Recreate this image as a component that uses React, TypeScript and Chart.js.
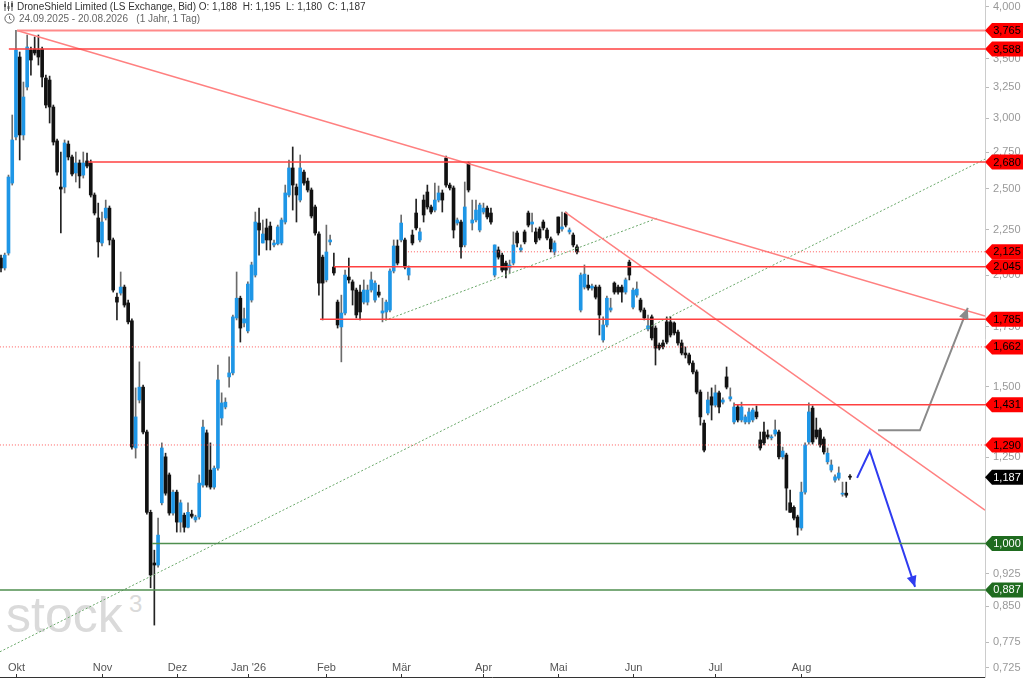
import { useEffect, useRef } from "react"
import { Chart, registerables } from "chart.js"

Chart.register(...registerables)

// daily candles, trading-day index 0..227
const opens = [
  2.091, 2.038, 2.118, 2.538, 2.859, 3.515, 2.874, 3.253, 3.579, 3.588,
  3.579, 3.588, 3.329, 3.312, 3.089, 2.83, 2.512, 2.512, 2.807, 2.715,
  2.605, 2.673, 2.591, 2.687, 2.673, 2.461, 2.319, 2.174, 2.319, 2.379,
  2.191, 1.89, 1.91, 1.94, 1.862, 1.778, 1.28, 1.449, 1.498, 1.334,
  1.084, 0.951, 0.946, 1.111, 1.251, 1.194, 1.082, 1.142, 1.057, 1.076,
  1.043, 1.079, 1.063, 1.071, 1.163, 1.331, 1.209, 1.157, 1.215, 1.383,
  1.423, 1.538, 1.554, 1.791, 1.885, 1.768, 1.732, 1.876, 2.001, 2.289,
  2.174, 2.26, 2.271, 2.163, 2.169, 2.174, 2.295, 2.461, 2.639, 2.512,
  2.429, 2.611, 2.551, 2.493, 2.386, 2.225, 2.096, 1.976, 2.18, 2.043,
  1.866, 1.75, 1.814, 1.991, 1.966, 1.925, 1.915, 1.866, 1.866, 1.925,
  1.876, 1.915, 1.814, 1.819, 1.828, 2.022, 2.157, 2.191, 2.191, 2.001,
  2.219, 2.349, 2.191, 2.429, 2.48, 2.386, 2.367, 2.429, 2.474, 2.708,
  2.525, 2.506, 2.289, 2.295, 2.163, 2.673, 2.289, 2.307, 2.248, 2.355,
  2.379, 2.349, 2.001, 2.135, 2.107, 2.064, 2.038, 2.064, 2.231, 2.135,
  2.237, 2.349, 2.283, 2.237, 2.254, 2.295, 2.248, 2.197, 2.124, 2.325,
  2.254, 2.349, 2.237, 2.219, 2.152, 1.828, 1.94, 1.95, 1.935, 1.94,
  1.94, 1.692, 1.759, 1.828, 1.96, 1.94, 1.94, 1.915, 2.069, 1.842,
  1.9, 1.876, 1.828, 1.741, 1.796, 1.745, 1.67, 1.679, 1.773, 1.773,
  1.768, 1.727, 1.679, 1.636, 1.628, 1.594, 1.558, 1.479, 1.365, 1.401,
  1.461, 1.43, 1.476, 1.441, 1.538, 1.453, 1.369, 1.423, 1.376, 1.369,
  1.369, 1.376, 1.405, 1.307, 1.334, 1.324, 1.314, 1.327, 1.334, 1.251,
  1.257, 1.111, 1.098, 1.071, 1.041, 1.142, 1.3, 1.419, 1.341, 1.341,
  1.31, 1.235, 1.209, 1.178, 1.184, 1.136, 1.139, 1.188,
]
const highs = [
  2.107, 2.118, 2.591, 3.026, 3.765, 3.561, 3.295, 3.721, 3.607, 3.702,
  3.721, 3.607, 3.355, 3.346, 3.105, 2.844, 2.75, 2.837, 2.83, 2.729,
  2.75, 2.694, 2.75, 2.743, 2.694, 2.474, 2.41, 2.355, 2.429, 2.392,
  2.202, 1.91, 2.017, 1.95, 1.876, 1.787, 1.495, 1.599, 1.506, 1.341,
  1.09, 0.983, 1.068, 1.297, 1.263, 1.2, 1.148, 1.148, 1.119, 1.082,
  1.111, 1.09, 1.076, 1.194, 1.376, 1.341, 1.297, 1.222, 1.586, 1.476,
  1.457, 1.62, 1.805, 2.017, 1.895, 1.838, 1.966, 2.069, 2.355, 2.379,
  2.307, 2.313, 2.295, 2.191, 2.277, 2.319, 2.525, 2.694, 2.786, 2.532,
  2.729, 2.625, 2.571, 2.506, 2.398, 2.237, 2.107, 2.277, 2.219, 2.118,
  1.876, 1.9, 2.027, 2.091, 1.976, 1.935, 1.95, 1.976, 1.95, 2.017,
  1.971, 1.95, 1.885, 1.876, 2.033, 2.191, 2.191, 2.337, 2.202, 2.049,
  2.248, 2.435, 2.26, 2.461, 2.525, 2.398, 2.538, 2.519, 2.493, 2.722,
  2.538, 2.519, 2.319, 2.307, 2.545, 2.68, 2.429, 2.429, 2.41, 2.41,
  2.392, 2.379, 2.163, 2.152, 2.118, 2.075, 2.08, 2.237, 2.242, 2.163,
  2.248, 2.361, 2.349, 2.26, 2.266, 2.307, 2.26, 2.208, 2.186, 2.325,
  2.355, 2.355, 2.26, 2.231, 2.163, 2.012, 2.054, 2.001, 1.955, 1.95,
  1.95, 1.796, 1.895, 1.885, 1.966, 1.95, 1.95, 1.986, 2.08, 1.935,
  1.966, 1.885, 1.838, 1.805, 1.805, 1.755, 1.679, 1.692, 1.796, 1.796,
  1.773, 1.736, 1.692, 1.662, 1.636, 1.603, 1.566, 1.487, 1.376, 1.479,
  1.495, 1.506, 1.483, 1.457, 1.578, 1.495, 1.438, 1.43, 1.441, 1.394,
  1.419, 1.419, 1.427, 1.334, 1.369, 1.341, 1.324, 1.376, 1.341, 1.283,
  1.263, 1.148, 1.102, 1.076, 1.172, 1.297, 1.438, 1.427, 1.383, 1.348,
  1.317, 1.28, 1.241, 1.194, 1.219, 1.172, 1.172, 1.195,
]
const lows = [
  2.017, 2.027, 2.107, 2.525, 2.837, 2.694, 2.837, 3.228, 3.355, 3.533,
  3.443, 3.253, 3.081, 2.964, 2.8, 2.591, 2.231, 2.474, 2.694, 2.585,
  2.545, 2.506, 2.571, 2.639, 2.448, 2.337, 2.096, 2.157, 2.307, 2.163,
  1.915, 1.782, 1.9, 1.842, 1.764, 1.276, 1.247, 1.438, 1.327, 1.079,
  0.892, 0.81, 0.941, 1.105, 1.133, 1.076, 1.076, 1.03, 1.03, 1.03,
  1.041, 1.068, 1.057, 1.065, 1.157, 1.157, 1.151, 1.151, 1.209, 1.358,
  1.416, 1.498, 1.546, 1.782, 1.683, 1.75, 1.723, 1.866, 1.991, 2.107,
  2.174, 2.135, 2.135, 2.152, 2.163, 2.163, 2.283, 2.448, 2.367, 2.295,
  2.417, 2.525, 2.48, 2.319, 2.219, 1.9, 1.782, 1.966, 2.163, 2.001,
  1.745, 1.599, 1.805, 1.96, 1.852, 1.791, 1.782, 1.857, 1.852, 1.915,
  1.866, 1.89, 1.773, 1.782, 1.819, 2.012, 2.054, 2.18, 2.033, 1.976,
  2.163, 2.248, 2.18, 2.295, 2.373, 2.343, 2.355, 2.417, 2.355, 2.512,
  2.493, 2.202, 2.277, 2.091, 2.152, 2.48, 2.248, 2.295, 2.237, 2.343,
  2.313, 2.283, 1.991, 2.085, 2.017, 1.986, 2.012, 2.054, 2.152, 2.124,
  2.169, 2.266, 2.237, 2.169, 2.191, 2.248, 2.191, 2.124, 2.107, 2.219,
  2.242, 2.266, 2.225, 2.152, 2.113, 1.819, 1.93, 1.925, 1.925, 1.881,
  1.714, 1.683, 1.75, 1.819, 1.905, 1.905, 1.866, 1.905, 1.976, 1.833,
  1.89, 1.819, 1.782, 1.732, 1.692, 1.586, 1.649, 1.653, 1.675, 1.705,
  1.714, 1.67, 1.628, 1.615, 1.586, 1.55, 1.472, 1.358, 1.267, 1.394,
  1.376, 1.423, 1.401, 1.434, 1.491, 1.445, 1.362, 1.369, 1.369, 1.362,
  1.362, 1.369, 1.38, 1.273, 1.29, 1.31, 1.307, 1.32, 1.244, 1.244,
  1.09, 1.084, 1.063, 1.022, 1.035, 1.136, 1.293, 1.293, 1.31, 1.283,
  1.26, 1.228, 1.203, 1.172, 1.178, 1.13, 1.127, 1.18,
]
const closes = [
  2.038, 2.107, 2.578, 2.837, 3.579, 2.874, 3.17, 3.607, 3.488, 3.552,
  3.515, 3.338, 3.105, 3.089, 2.822, 2.611, 2.499, 2.815, 2.715, 2.598,
  2.673, 2.585, 2.673, 2.652, 2.461, 2.349, 2.18, 2.295, 2.379, 2.191,
  1.925, 1.866, 1.94, 1.852, 1.773, 1.283, 1.387, 1.498, 1.334, 1.084,
  0.922, 0.946, 1.022, 1.28, 1.139, 1.082, 1.142, 1.057, 1.111, 1.043,
  1.084, 1.073, 1.071, 1.169, 1.351, 1.163, 1.157, 1.215, 1.526, 1.438,
  1.441, 1.554, 1.796, 1.885, 1.745, 1.787, 1.955, 2.054, 2.295, 2.248,
  2.225, 2.191, 2.191, 2.174, 2.266, 2.307, 2.474, 2.639, 2.525, 2.461,
  2.639, 2.538, 2.493, 2.331, 2.231, 1.96, 1.96, 2.124, 2.191, 2.012,
  1.759, 1.814, 2.001, 1.976, 1.925, 1.805, 1.819, 1.925, 1.925, 1.976,
  1.96, 1.9, 1.824, 1.866, 2.022, 2.157, 2.064, 2.289, 2.043, 2.038,
  2.174, 2.26, 2.237, 2.337, 2.386, 2.355, 2.429, 2.474, 2.429, 2.525,
  2.506, 2.248, 2.307, 2.152, 2.386, 2.493, 2.307, 2.367, 2.398, 2.379,
  2.325, 2.295, 2.163, 2.096, 2.027, 2.027, 2.054, 2.163, 2.174, 2.146,
  2.18, 2.277, 2.295, 2.18, 2.202, 2.26, 2.202, 2.141, 2.174, 2.231,
  2.266, 2.277, 2.248, 2.163, 2.124, 2.001, 2.006, 1.935, 1.945, 1.89,
  1.805, 1.759, 1.885, 1.838, 1.915, 1.915, 1.915, 1.976, 2.001, 1.925,
  1.93, 1.828, 1.791, 1.755, 1.701, 1.657, 1.657, 1.662, 1.683, 1.714,
  1.723, 1.679, 1.636, 1.628, 1.594, 1.558, 1.479, 1.387, 1.273, 1.449,
  1.43, 1.476, 1.423, 1.449, 1.498, 1.461, 1.423, 1.376, 1.423, 1.387,
  1.405, 1.412, 1.387, 1.28, 1.297, 1.317, 1.317, 1.341, 1.251, 1.27,
  1.154, 1.084, 1.068, 1.043, 1.142, 1.29, 1.405, 1.3, 1.317, 1.29,
  1.267, 1.263, 1.225, 1.188, 1.2, 1.139, 1.133, 1.187,
]

const monthLabels = ["Okt", "Nov", "Dez", "Jan '26", "Feb", "Mär", "Apr", "Mai", "Jun", "Jul", "Aug"]
const monthIndex = [4, 27, 47, 66, 87, 107, 129, 149, 169, 191, 214]

const yTicks = [4, 3.75, 3.5, 3.25, 3, 2.75, 2.5, 2.25, 2, 1.75, 1.5, 1.25, 1, 0.925, 0.85, 0.775, 0.725]

// horizontal levels and the index where each one starts
const levelValues = [3.765, 3.588, 2.68, 2.125, 2.045, 1.785, 1.662, 1.431, 1.29, 1.0, 0.887]
const levelFrom = [4.3, 2.1, 23.3, 108.8, 89, 85.3, -0.3, 196, -0.3, 40.4, -0.3]
const dottedLevels = [2.125, 1.662, 1.29]
const supportLevels = [1.0, 0.887]

// trend lines as [index, price]
const resistance1 = [[4.3, 3.765], [263.1, 1.8]]
const resistance2 = [[150.8, 2.355], [263.1, 1.09]]
const supportTrend1 = [[-0.3, 0.756], [263.1, 2.7]]
const supportTrend2 = [[102.7, 1.78], [175.7, 2.32]]
const grayArrow = [[234.5, 1.34], [245.7, 1.34], [258.5, 1.838]]
const blueArrow = [[228.9, 1.185], [232.3, 1.27], [244.4, 0.894]]

const X_MIN = -0.267
const X_MAX = 263.1
const Y_MIN = 0.7065
const Y_MAX = 4.073

const BLUE = "#1e96e6"
const BLACK = "#111111"

const fmt = (v: number) => v.toFixed(3).replace(".", ",")

export default function App() {
  const canvasRef = useRef<HTMLCanvasElement>(null)
  const chartRef = useRef<Chart | null>(null)

  const last = closes.length - 1

  useEffect(() => {
    document.body.style.margin = "0"
    const canvas = canvasRef.current
    if (!canvas) return
    const ctx = canvas.getContext("2d")
    if (!ctx) return

    if (chartRef.current) chartRef.current.destroy()

    Chart.defaults.font.family = "'Liberation Sans', Arial, sans-serif"

    const idx = closes.map((_, i) => i)
    const up = idx.map((i) => closes[i] >= opens[i])

    const line = (pts: number[][], color: string, width: number, dash: number[] = []) => ({
      type: "line" as const,
      data: pts.map(([x, y]) => ({ x, y })),
      borderColor: color,
      borderWidth: width,
      borderDash: dash,
      pointRadius: 0,
      fill: false,
      tension: 0,
      order: 1,
    })

    const levelSets = levelValues.map((v, k) => {
      const pts = [[levelFrom[k], v], [X_MAX, v]]
      if (supportLevels.includes(v)) return line(pts, "#4f8f4f", 1.5)
      if (dottedLevels.includes(v)) return line(pts, "#ff5a5a", 1, [1, 2])
      return line(pts, k === 0 ? "#ff8a8a" : "#ff4040", k === 0 ? 2 : 1.5)
    })

    const tags = [
      ...levelValues.map((v) =>
        supportLevels.includes(v)
          ? { v, bg: "#1f6b1f", fg: "#ffffff" }
          : { v, bg: "#ff0000", fg: "#000000" }
      ),
      { v: closes[last], bg: "#000000", fg: "#ffffff" },
    ]

    const overlay = {
      id: "overlay",
      afterDatasetsDraw(c: any) {
        const g = c.ctx
        const xs = c.scales.x
        const ys = c.scales.y
        const head = (pts: number[][], color: string) => {
          const [x1, y1] = pts[pts.length - 2]
          const [x2, y2] = pts[pts.length - 1]
          const ax = xs.getPixelForValue(x1)
          const ay = ys.getPixelForValue(y1)
          const bx = xs.getPixelForValue(x2)
          const by = ys.getPixelForValue(y2)
          const a = Math.atan2(by - ay, bx - ax)
          const len = 11
          const half = 5
          g.save()
          g.fillStyle = color
          g.beginPath()
          g.moveTo(bx, by)
          g.lineTo(bx - len * Math.cos(a) + half * Math.sin(a), by - len * Math.sin(a) - half * Math.cos(a))
          g.lineTo(bx - len * Math.cos(a) - half * Math.sin(a), by - len * Math.sin(a) + half * Math.cos(a))
          g.closePath()
          g.fill()
          g.restore()
        }
        head(grayArrow, "#8a8a8a")
        head(blueArrow, "#2f3cf0")
      },
      afterDraw(c: any) {
        const g = c.ctx
        const xs = c.scales.x
        const ys = c.scales.y
        const area = c.chartArea
        g.save()
        // month labels and bottom axis
        g.font = "11px 'Liberation Sans', Arial, sans-serif"
        g.fillStyle = "#555"
        g.textAlign = "center"
        g.textBaseline = "alphabetic"
        g.strokeStyle = "#333"
        g.lineWidth = 1
        monthIndex.forEach((m, k) => {
          const px = Math.round(xs.getPixelForValue(m)) + 0.5
          g.fillText(monthLabels[k], px, 671)
          g.beginPath()
          g.moveTo(px, 674)
          g.lineTo(px, 678)
          g.stroke()
        })
        g.beginPath()
        g.moveTo(0, 677.5)
        g.lineTo(area.right, 677.5)
        g.stroke()

        // price tags on the right axis
        g.textAlign = "center"
        g.textBaseline = "middle"
        tags.forEach((t) => {
          const py = ys.getPixelForValue(t.v)
          const x0 = area.right
          g.fillStyle = t.bg
          g.beginPath()
          g.moveTo(x0, py)
          g.lineTo(x0 + 7, py - 7.5)
          g.lineTo(1023, py - 7.5)
          g.lineTo(1023, py + 7.5)
          g.lineTo(x0 + 7, py + 7.5)
          g.closePath()
          g.fill()
          g.fillStyle = t.fg
          g.fillText(fmt(t.v), 1007, py + 0.5)
        })
        g.restore()
      },
    }

    chartRef.current = new Chart(ctx, {
      type: "bar",
      data: {
        datasets: [
          ...levelSets,
          line(resistance1, "#ff8080", 1.5),
          line(resistance2, "#ff8080", 1.5),
          line(supportTrend1, "#6aa86a", 1, [2, 2]),
          line(supportTrend2, "#6aa86a", 1, [2, 2]),
          line(grayArrow, "#8a8a8a", 2),
          line(blueArrow, "#2f3cf0", 2),
          {
            type: "bar",
            data: idx.map((i) => ({ x: i, y: [opens[i], closes[i]] })),
            backgroundColor: up.map((u) => (u ? BLUE : BLACK)),
            barThickness: 3,
            minBarLength: 1,
            grouped: false,
            order: 2,
          },
          {
            type: "bar",
            data: idx.map((i) => ({ x: i, y: [lows[i], highs[i]] })),
            backgroundColor: up.map((u) => (u ? "#6b6b6b" : "#222222")),
            barThickness: 1,
            grouped: false,
            order: 3,
          },
        ] as any,
      },
      options: {
        responsive: false,
        animation: false,
        events: [],
        layout: { padding: 0, autoPadding: false },
        plugins: { legend: { display: false }, tooltip: { enabled: false } },
        scales: {
          x: {
            type: "linear",
            min: X_MIN,
            max: X_MAX,
            display: false,
            offset: false,
          },
          y: {
            type: "logarithmic",
            position: "right",
            bounds: "data",
            min: Y_MIN,
            max: Y_MAX,
            afterBuildTicks: (s: any) => {
              s.ticks = yTicks.map((v) => ({ value: v }))
            },
            afterFit: (s: any) => {
              s.width = 39
              s.paddingTop = 0
              s.paddingBottom = 0
            },
            grid: { drawOnChartArea: false, tickLength: 4, color: "#bbbbbb" },
            border: { color: "#cccccc" },
            ticks: {
              color: "#999999",
              font: { size: 11 },
              padding: 4,
              autoSkip: false,
              callback: (v: any) => fmt(Number(v)),
            },
          },
        } as any,
      },
      plugins: [overlay],
    })

    return () => {
      if (chartRef.current) {
        chartRef.current.destroy()
        chartRef.current = null
      }
    }
  }, [])

  return (
    <div
      style={{
        position: "relative",
        width: 1024,
        height: 678,
        fontFamily: "'Liberation Sans', Arial, sans-serif",
        overflow: "hidden",
      }}
    >
      <div
        style={{
          position: "absolute",
          left: 6,
          top: 590,
          fontSize: 50,
          lineHeight: "50px",
          color: "#dadada",
          whiteSpace: "pre",
        }}
      >
        stock
      </div>
      <div
        style={{
          position: "absolute",
          left: 129,
          top: 592,
          fontSize: 24,
          lineHeight: "24px",
          color: "#dadada",
        }}
      >
        3
      </div>
      <canvas
        ref={canvasRef}
        width={1024}
        height={678}
        style={{ position: "absolute", left: 0, top: 0 }}
      />
      <div
        style={{
          position: "absolute",
          left: 3,
          top: 1,
          fontSize: 10,
          lineHeight: "12px",
          color: "#333",
          whiteSpace: "pre",
        }}
      >
        <svg width="11" height="10" style={{ verticalAlign: "-1px", marginRight: 3 }}>
          <path d="M2 0v10M5.5 1v9M9 0v10" stroke="#555" strokeWidth="1" />
          <rect x="1" y="3" width="2" height="3" fill="#555" />
          <rect x="4.5" y="5" width="2" height="3" fill="#555" />
          <rect x="8" y="2" width="2" height="4" fill="#555" />
        </svg>
        {`DroneShield Limited (LS Exchange, Bid) O: ${fmt(opens[last])}  H: ${fmt(highs[last])}  L: ${fmt(lows[last])}  C: ${fmt(closes[last])}`}
      </div>
      <div
        style={{
          position: "absolute",
          left: 4,
          top: 13,
          fontSize: 10,
          lineHeight: "12px",
          color: "#666",
          whiteSpace: "pre",
        }}
      >
        <svg width="11" height="11" style={{ verticalAlign: "-2px", marginRight: 4 }}>
          <circle cx="5.5" cy="5.5" r="4.6" fill="none" stroke="#666" strokeWidth="1" />
          <path d="M5.5 3v2.7l2 1.3" fill="none" stroke="#666" strokeWidth="1" />
        </svg>
        {"24.09.2025 - 20.08.2026   (1 Jahr, 1 Tag)"}
      </div>
    </div>
  )
}
